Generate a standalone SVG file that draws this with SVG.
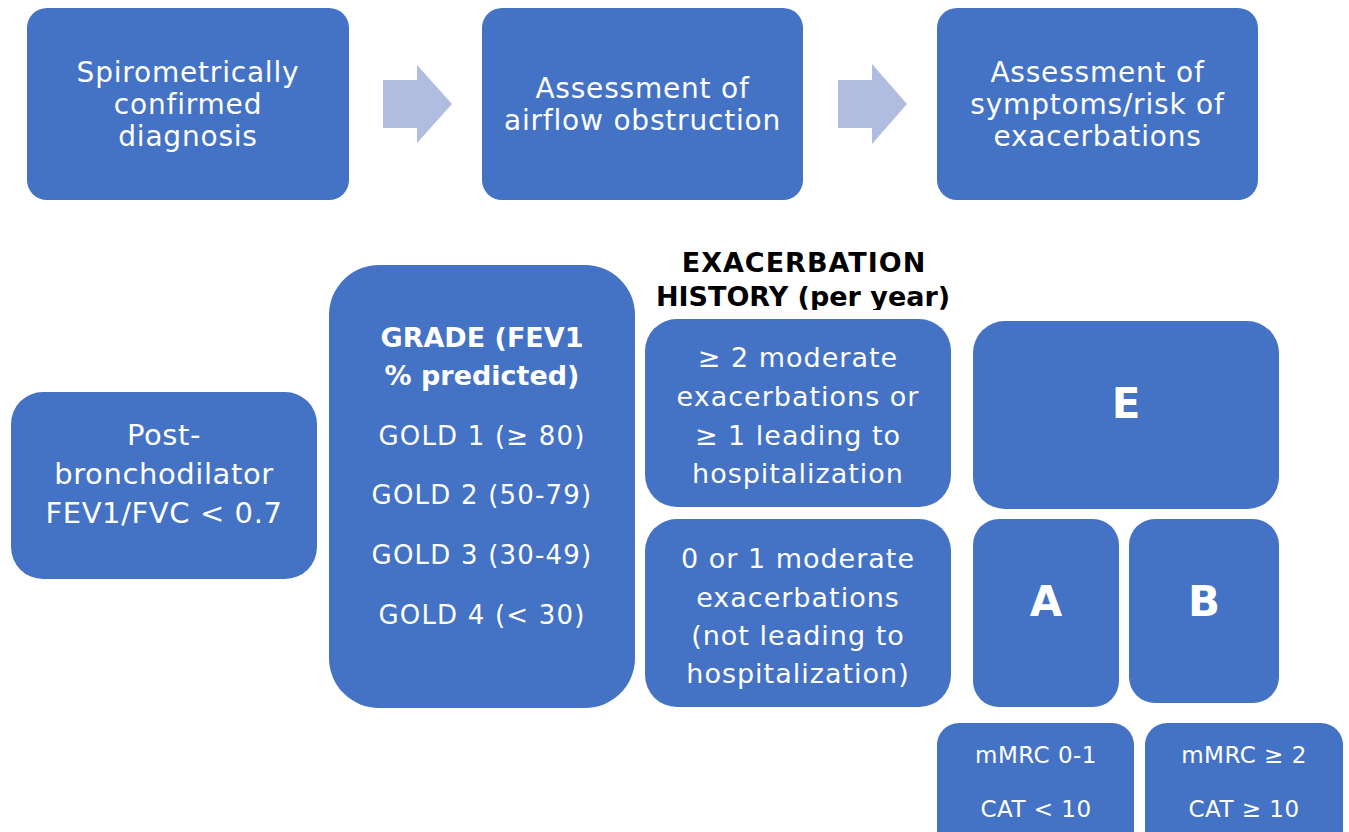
<svg xmlns="http://www.w3.org/2000/svg" width="1349" height="832" viewBox="0 0 1349 832">
  <style>
    .box { fill: #4472C4; }
    .arrow { fill: #B0BDE0; }
    .t { font-family: "DejaVu Sans", "Liberation Sans", sans-serif; fill: #FFFFFF; text-anchor: middle; }
    .b { font-weight: bold; }
    .hdr { font-family: "DejaVu Sans", "Liberation Sans", sans-serif; font-weight: bold; fill: #000000; text-anchor: middle; font-size: 27px; }
  </style>
  <defs>
    <clipPath id="hdrClip">
      <rect x="600" y="230" width="400" height="80"/>
    </clipPath>
  </defs>
  <rect width="1349" height="832" fill="#FFFFFF"/>

  <!-- top row flow -->
  <g id="diagnosis">
    <rect class="box" x="27" y="8" width="322" height="192" rx="20"/>
    <text class="t" font-size="28" letter-spacing="0.8"><tspan x="188" y="82">Spirometrically</tspan><tspan x="188" y="114">confirmed</tspan><tspan x="188" y="146">diagnosis</tspan></text>
  </g>
  <g id="airflow">
    <rect class="box" x="482" y="8" width="321" height="192" rx="20"/>
    <text class="t" font-size="28" letter-spacing="0.8"><tspan x="642.5" y="98">Assessment of</tspan><tspan x="642.5" y="130">airflow obstruction</tspan></text>
  </g>
  <g id="symptoms">
    <rect class="box" x="937" y="8" width="321" height="192" rx="20"/>
    <text class="t" font-size="28" letter-spacing="0.8"><tspan x="1097.5" y="82">Assessment of</tspan><tspan x="1097.5" y="114">symptoms/risk of</tspan><tspan x="1097.5" y="146">exacerbations</tspan></text>
  </g>

  <g id="connectors">
    <polygon class="arrow" points="383,80 417,80 417,65 452,104 417,143 417,128 383,128"/>
    <polygon class="arrow" points="838,80 872,80 872,64 907,104 872,144 872,128 838,128"/>
  </g>

  <!-- spirometry criterion -->
  <g id="post">
    <rect class="box" x="11" y="392" width="306" height="187" rx="32"/>
    <text class="t" font-size="29" letter-spacing="0.6"><tspan x="164" y="445">Post-</tspan><tspan x="164" y="484">bronchodilator</tspan><tspan x="164" y="523">FEV1/FVC &lt; 0.7</tspan></text>
  </g>

  <!-- GOLD grades -->
  <g id="grade">
    <rect class="box" x="329" y="265" width="306" height="443" rx="50"/>
    <text class="t b" font-size="27"><tspan x="482" y="347">GRADE (FEV1</tspan><tspan x="482" y="385">% predicted)</tspan></text>
    <text class="t" font-size="26" letter-spacing="1.2"><tspan x="482" y="445">GOLD 1 (≥ 80)</tspan><tspan x="482" y="504">GOLD 2 (50-79)</tspan><tspan x="482" y="564">GOLD 3 (30-49)</tspan><tspan x="482" y="624">GOLD 4 (&lt; 30)</tspan></text>
  </g>

  <!-- exacerbation history -->
  <g id="exac-header" clip-path="url(#hdrClip)">
    <text class="hdr"><tspan x="804" y="272" letter-spacing="1">EXACERBATION</tspan><tspan x="803" y="306">HISTORY (per year)</tspan></text>
  </g>
  <g id="exac-high">
    <rect class="box" x="645" y="319" width="306" height="188" rx="32"/>
    <text class="t" font-size="27" letter-spacing="1"><tspan x="798" y="367">≥ 2 moderate</tspan><tspan x="798" y="406">exacerbations or</tspan><tspan x="798" y="445">≥ 1 leading to</tspan><tspan x="798" y="483">hospitalization</tspan></text>
  </g>
  <g id="exac-low">
    <rect class="box" x="645" y="519" width="306" height="188" rx="32"/>
    <text class="t" font-size="27" letter-spacing="1"><tspan x="798" y="568">0 or 1 moderate</tspan><tspan x="798" y="607">exacerbations</tspan><tspan x="798" y="645">(not leading to</tspan><tspan x="798" y="683">hospitalization)</tspan></text>
  </g>

  <!-- ABE groups -->
  <g id="group-e">
    <rect class="box" x="973" y="321" width="306" height="188" rx="32"/>
    <text class="t b" font-size="42" x="1126" y="418">E</text>
  </g>
  <g id="group-a">
    <rect class="box" x="973" y="519" width="146" height="188" rx="26"/>
    <text class="t b" font-size="42" x="1046" y="616">A</text>
  </g>
  <g id="group-b">
    <rect class="box" x="1129" y="519" width="150" height="184" rx="26"/>
    <text class="t b" font-size="42" x="1204" y="616">B</text>
  </g>

  <!-- symptom thresholds -->
  <g id="symptoms-low">
    <rect class="box" x="937" y="723" width="197" height="130" rx="22"/>
    <text class="t" font-size="23" letter-spacing="0.5"><tspan x="1036" y="763">mMRC 0-1</tspan><tspan x="1036" y="817">CAT &lt; 10</tspan></text>
  </g>
  <g id="symptoms-high">
    <rect class="box" x="1145" y="723" width="198" height="130" rx="22"/>
    <text class="t" font-size="23" letter-spacing="0.5"><tspan x="1244" y="763">mMRC ≥ 2</tspan><tspan x="1244" y="817">CAT ≥ 10</tspan></text>
  </g>
</svg>
